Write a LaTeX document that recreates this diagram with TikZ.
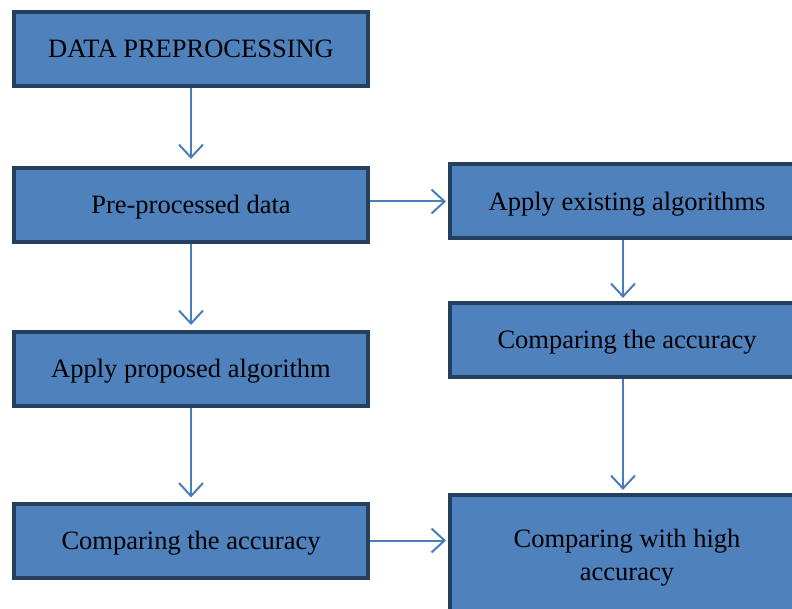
\documentclass[tikz,border=0pt]{standalone}
\usepackage{fontspec}
\setmainfont{Liberation Serif}
\usetikzlibrary{arrows.meta}
\definecolor{boxfill}{HTML}{4F81BD}
\definecolor{boxline}{HTML}{243F60}
\definecolor{arrowblue}{HTML}{4A7EBB}

\begin{document}
\begin{tikzpicture}[x=1pt,y=1pt,
  stepbox/.style={draw=boxline,fill=boxfill,line width=4pt,minimum width=354pt,minimum height=74pt,align=center,font=\fontsize{26.5}{33}\selectfont},
  oneline/.style={stepbox,text height=24pt,text depth=6pt},
  flow/.style={draw=arrowblue,line width=2pt,-{Straight Barb[length=13pt,width=24pt,line width=2pt]}}]
 \useasboundingbox (0,0) rectangle (792,608);
 \clip (0,0) rectangle (792,608);
 \node[oneline] (dp) at (191,559) {DATA PREPROCESSING};
 \node[oneline] (ppd) at (191,403) {Pre-processed data};
 \node[oneline] (apa) at (191,239) {Apply proposed algorithm};
 \node[oneline] (cmpl) at (191,67.5) {Comparing the accuracy};
 \node[oneline] (aea) at (627,406.5) {Apply existing algorithms};
 \node[oneline] (cmpr) at (627,268) {Comparing the accuracy};
 \node[stepbox,minimum height=118pt] (high) at (627,54) {};
 \node[align=center,font=\fontsize{26.5}{33}\selectfont] (hightxt) at (627,50) {Comparing with high\\accuracy};
 % left column
 \draw[flow,shorten >=7pt] (dp.south) -- (ppd.north);
 \draw[flow,shorten >=5pt] (ppd.south) -- (apa.north);
 \draw[flow,shorten >=4pt] (apa.south) -- (cmpl.north);
 % right column
 \draw[flow,shorten >=3pt] (aea.south -| 623,0) -- (cmpr.north -| 623,0);
 \draw[flow,shorten >=3pt] (cmpr.south -| 623,0) -- (high.north -| 623,0);
 % across
 \draw[flow,shorten >=2pt] (aea.west -| ppd.east) -- (aea.west);
 \draw[flow,shorten >=2pt] (cmpl.east) -- (cmpl.east -| high.west);
\end{tikzpicture}
\end{document}
